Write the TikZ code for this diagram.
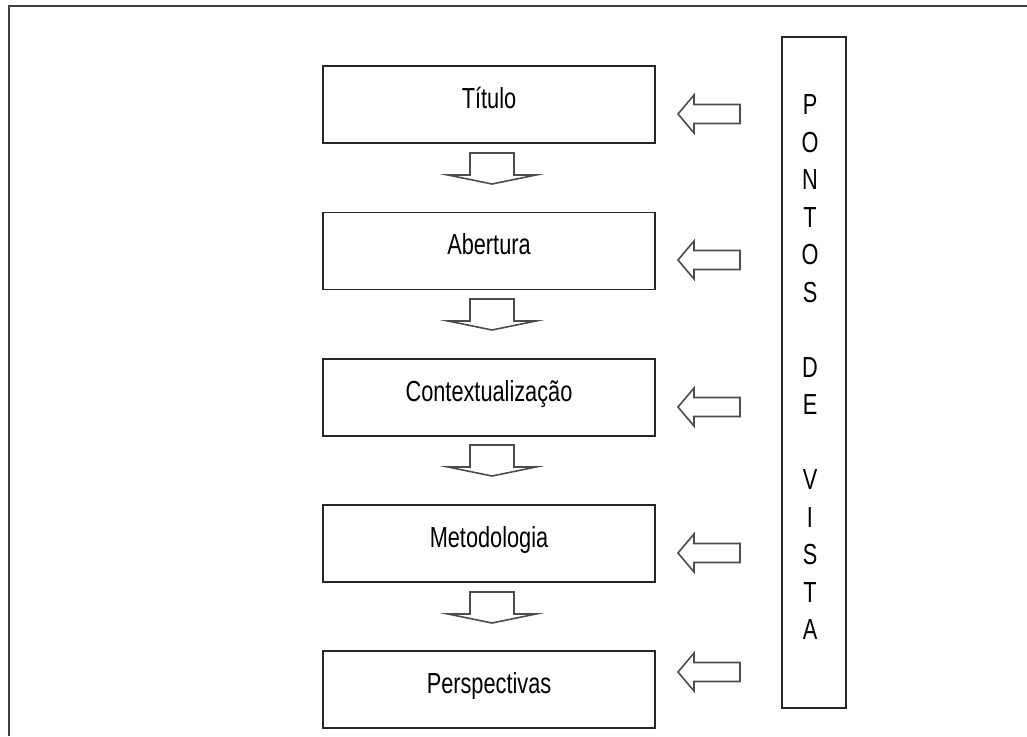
\documentclass[tikz,border=0pt]{standalone}
\usepackage{fontspec}
\setmainfont{Liberation Sans}
\usepackage{graphicx}
\newcommand{\narrow}[1]{\scalebox{0.75}[1]{#1}}
\begin{document}
\begin{tikzpicture}[x=1pt,y=-1pt,
  stepbox/.style={draw=black!85, line width=1.8pt, minimum width=332pt, minimum height=77pt, inner sep=0pt,
    text height=21pt, text depth=14pt, font={\fontsize{29}{34}\selectfont}},
  blockarrow/.style={draw=black!70, line width=1.6pt, fill=white, line join=miter},
  frameline/.style={draw=black!75, line width=2pt}]
\useasboundingbox (0,0) rectangle (1027,736);
\fill[white] (0,0) rectangle (1027,736);
\draw[frameline] (9,736) -- (9,6) -- (1027,6);

\node[stepbox] (titulo) at (489,104.5) {\narrow{Título}};
\node[stepbox] (abertura) at (489,251) {\narrow{Abertura}};
\node[stepbox] (context) at (489,397.5) {\narrow{Contextualização}};
\node[stepbox] (metod) at (489,543.5) {\narrow{Metodologia}};
\node[stepbox] (persp) at (489,689.5) {\narrow{Perspectivas}};

\node[draw=black!85, line width=1.8pt, minimum width=64pt, minimum height=671pt, inner sep=0pt] (pv) at (814,372.5) {};
\node[inner sep=0pt, align=center, font={\fontsize{29}{37.5}\selectfont}] (pvtext) at (810,367.5)
  {\narrow{P}\\\narrow{O}\\\narrow{N}\\\narrow{T}\\\narrow{O}\\\narrow{S}\\\mbox{}\\\narrow{D}\\\narrow{E}\\\mbox{}\\\narrow{V}\\\narrow{I}\\\narrow{S}\\\narrow{T}\\\narrow{A}};

% down block arrows
\foreach \t in {153,299,445,592}{
  \draw[blockarrow] (470,\t) -- (514,\t) -- (514,\t+22) -- (536,\t+22) -- (492,\t+31) -- (448,\t+22) -- (470,\t+22) -- cycle;
}
% left block arrows
\foreach \c in {114,260,407,553,672}{
  \draw[blockarrow] (678,\c) -- (694,\c-19) -- (694,\c-9.5) -- (740,\c-9.5) -- (740,\c+9.5) -- (694,\c+9.5) -- (694,\c+19) -- cycle;
}
\end{tikzpicture}
\end{document}
